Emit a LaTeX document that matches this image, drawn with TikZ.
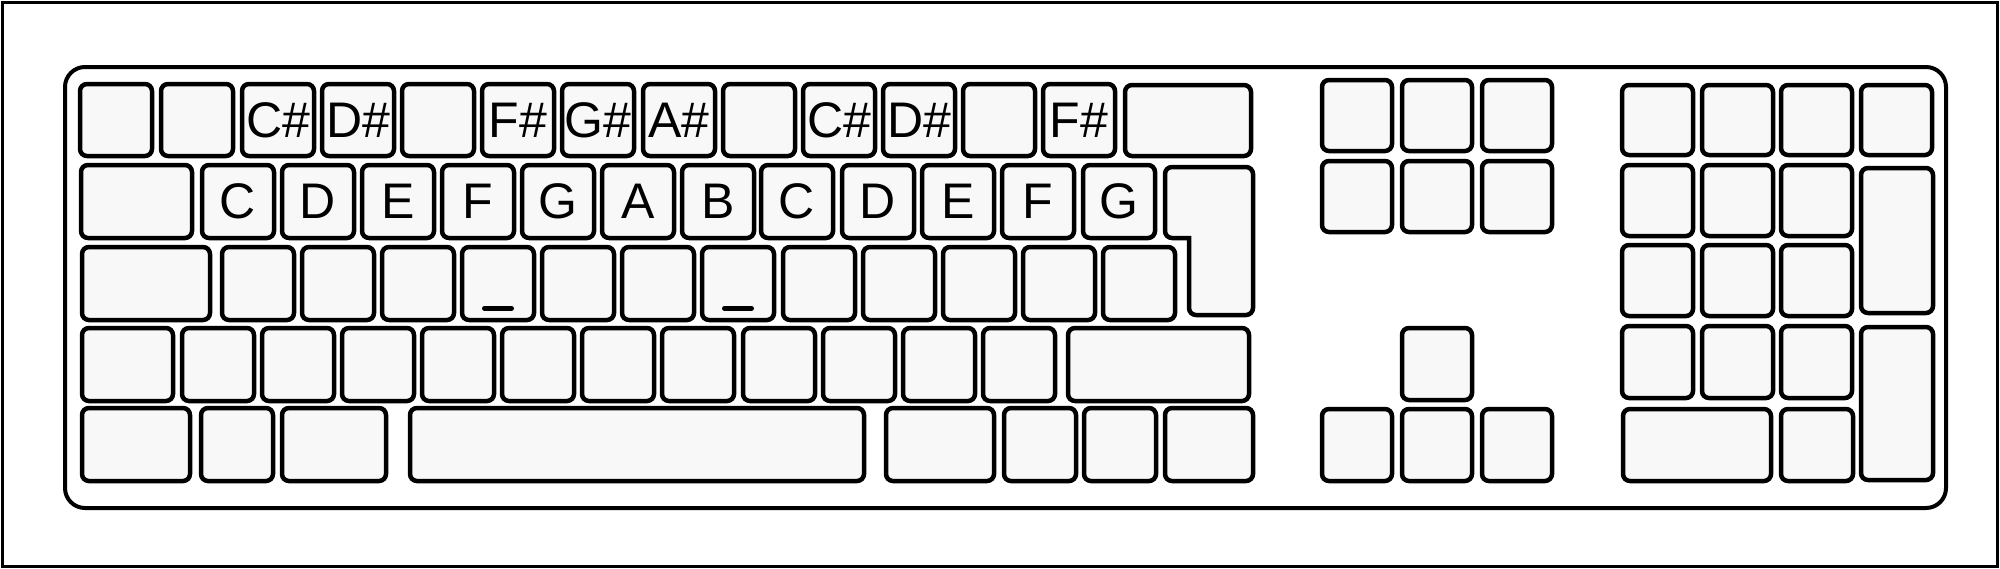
\documentclass[tikz,border=0pt]{standalone}
\usepackage{fontspec}
\setmainfont{Liberation Sans}
\definecolor{keyfill}{HTML}{F8F8F8}
\newcommand\kb[6]{\node[keycap,minimum width={#4-#2-4},minimum height={#5-#3-4}] (#1) at ({(#2+#4)/2},{(#3+#5)/2}) {#6};}
\begin{document}
\begin{tikzpicture}[x=1pt,y=-1pt,
  keycap/.style={draw=black,line width=4.5pt,fill=keyfill,rounded corners=7pt,inner sep=0pt,
    font=\fontsize{50}{54}\selectfont},
  board/.style={draw=black,line width=4pt,fill=white,rounded corners=20pt},
  frame/.style={draw=black,line width=3pt},
  bump/.style={line width=5pt,line cap=round}]
\useasboundingbox (0,0) rectangle (2000,568);
\node[frame,minimum width=1995,minimum height=564,inner sep=0pt] (frame) at (999.75,284) {};
\node[board,minimum width=1881,minimum height=441,inner sep=0pt] (board) at (1005.5,287.5) {};
% row 1
\foreach \x/\t [count=\i] in {78/{},159/{},240/C\#,320/D\#,400/{},480/F\#,560/G\#,641/A\#,721/{},801/C\#,881/D\#,961/{},1041/F\#}
  {\kb{ra\i}{\x}{82}{\x+76}{158}{\t}}
\kb{ra14}{1123}{83}{1253}{158}{}
% row 2
\kb{rb0}{79}{163}{194}{240}{}
\foreach \x/\t [count=\i] in {200/C,280/D,360/E,440/F,520/G,600/A,680/B,759/C,840/D,920/E,1000/F,1081/G}
  {\kb{rb\i}{\x}{163}{\x+76}{240}{\t}}
% enter
\draw[keycap] (1189,315) [rounded corners=7pt] -- (1253,315) -- (1253,167) -- (1165,167) -- (1165,238) [sharp corners] -- (1189,238) [rounded corners=7pt] -- cycle;
% row 3
\kb{rc0}{80}{245}{212}{322}{}
\foreach \x [count=\i] in {220,300,380,460,540,620,700,781,861,941,1021,1101}
  {\kb{rc\i}{\x}{245}{\x+76}{322}{}}
\draw[bump] ([xshift=-13.5pt,yshift=14pt]rc4.south) -- ([xshift=13.5pt,yshift=14pt]rc4.south);
\draw[bump] ([xshift=-13.5pt,yshift=14pt]rc7.south) -- ([xshift=13.5pt,yshift=14pt]rc7.south);
% row 4
\kb{rd0}{80}{326}{175}{403}{}
\foreach \x [count=\i] in {180,260,340,420,500,580,660,741,821,901,981}
  {\kb{rd\i}{\x}{326}{\x+76}{403}{}}
\kb{rd12}{1066}{326}{1251}{403}{}
% row 5
\kb{re1}{80}{406}{192}{483}{}
\kb{re2}{199}{406}{275}{483}{}
\kb{re3}{280}{406}{388}{483}{}
\kb{re4}{408}{406}{866}{483}{}
\kb{re5}{884}{406}{996}{483}{}
\kb{re6}{1002}{406}{1078}{483}{}
\kb{re7}{1082}{406}{1158}{483}{}
\kb{re8}{1163}{406}{1255}{483}{}
% navigation
\foreach \x [count=\i] in {1320,1400,1480} {
  \kb{na\i}{\x}{78}{\x+74}{153}{}
  \kb{nb\i}{\x}{159}{\x+74}{234}{}
  \kb{ar\i}{\x}{407}{\x+74}{483}{}
}
\kb{arup}{1400}{326}{1474}{402}{}
% numpad
\foreach \x [count=\i] in {1620,1700,1779,1859} {
  \kb{pa\i}{\x}{83}{\x+75}{157}{}
}
\foreach \x [count=\i] in {1620,1700,1779} {
  \kb{pb\i}{\x}{163}{\x+75}{238}{}
  \kb{pc\i}{\x}{243}{\x+75}{318}{}
  \kb{pd\i}{\x}{324}{\x+75}{400}{}
}
\kb{pplus}{1859}{166}{1935}{315}{}
\kb{penter}{1859}{325}{1935}{482}{}
\kb{pzero}{1621}{407}{1773}{483}{}
\kb{pdot}{1779}{407}{1855}{483}{}
\end{tikzpicture}
\end{document}
